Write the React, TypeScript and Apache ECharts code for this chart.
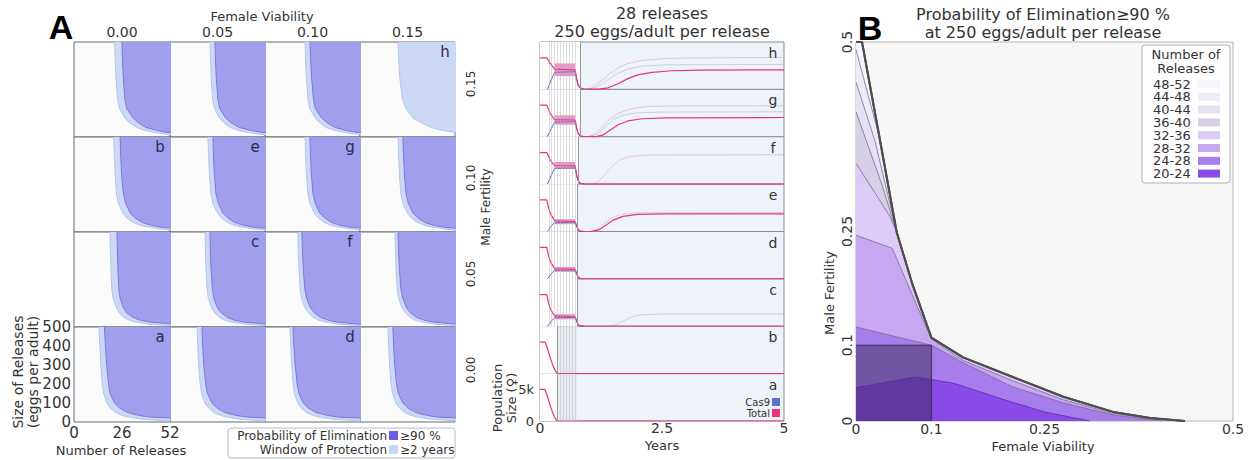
import React, { useEffect, useRef } from "react";
import * as echarts from "echarts";

const FONT = "DejaVu Sans";

// ---------------- Panel A data ----------------
const FEMALE_VIABILITY_COLS = ["0.00", "0.05", "0.10", "0.15"];
const MALE_FERTILITY_ROWS = ["0.15", "0.10", "0.05", "0.00"];
const RELEASE_SIZE_LEVELS = [500, 400, 300, 200, 150, 100, 75, 50, 35, 25, 15, 5];
const CELL_LETTERS = [
  ["", "", "", "h"],
  ["b", "e", "g", ""],
  ["", "c", "f", ""],
  ["a", "", "d", ""],
];

// Number of releases at the >=90 % elimination edge, for each release size level
const ELIM_MF015 = [
  [26, 26.3, 26.8, 27.5, 28.5, 32, 35, 39, 45, 50, 65, 90],
  [24.6, 24.9, 25.4, 26.2, 27.2, 30.5, 33.5, 38, 44, 50, 65, 90],
  [24.6, 25, 25.6, 26.5, 27.5, 31, 34, 38.5, 44, 50, 65, 90],
  null,
];
const ELIM_MF010 = [
  [25, 25.3, 25.8, 26.8, 28, 30.5, 33, 37, 42, 47, 60, 85],
  [23.5, 23.8, 24.3, 25.2, 26.5, 29, 31.5, 35.5, 40.5, 46, 58, 80],
  [24.6, 24.9, 25.4, 26.3, 27.5, 30, 32.5, 36.5, 41.5, 47, 60, 85],
  [23.5, 23.8, 24.3, 25.2, 26.5, 29, 31.5, 35.5, 40.5, 46, 58, 80],
];
const ELIM_MF005 = [
  [23.3, 23.5, 23.8, 24.3, 25, 26.8, 28.5, 32, 36, 42, 55, 80],
  [21.9, 22.1, 22.5, 23.2, 24, 26, 28, 31.5, 35.5, 41, 54, 78],
  [20.2, 20.5, 21, 21.8, 22.8, 25, 27, 30.5, 35, 40, 52, 75],
  [20.8, 21.1, 21.6, 22.4, 23.4, 25.6, 27.6, 31, 35.5, 41, 53, 76],
];
const ELIM_MF000 = [
  [16.5, 17, 17.7, 18.7, 19.5, 22, 24.5, 29, 35, 42, 70, 90],
  [17.5, 17.9, 18.5, 19.5, 20.5, 23, 25.5, 30, 36, 43, 70, 90],
  [15.3, 15.8, 16.5, 17.6, 18.6, 21, 23.5, 28, 34, 41, 68, 90],
  [18, 18.4, 19, 20, 21, 23.5, 26, 30.5, 36.5, 43, 70, 90],
];
// Number of releases at the >=2 years window-of-protection edge
const WIN_MF015 = [
  [22, 22.3, 22.8, 23.6, 24.6, 27.5, 30, 34, 38, 43, 50, 62],
  [21.9, 22.2, 22.6, 23.3, 24.3, 27, 29.5, 33, 37, 42, 49, 60],
  [21.9, 22.2, 22.7, 23.5, 24.5, 27.5, 30, 33.5, 38, 43, 50, 62],
  [20.8, 21.2, 21.9, 23.3, 25, 29, 33.5, 39, 45, 52, 60, 70],
];
const WIN_MF010 = [
  [21.5, 21.8, 22.3, 23, 24, 26.5, 28.5, 32, 36, 41, 48, 60],
  [20.8, 21.1, 21.6, 22.4, 23.5, 26, 28, 31.5, 35, 40, 47, 58],
  [21.9, 22.2, 22.7, 23.5, 24.6, 27, 29, 32.5, 36, 41, 48, 60],
  [20.8, 21.1, 21.6, 22.4, 23.5, 26, 28, 31.5, 35, 40, 47, 58],
];
const WIN_MF005 = [
  [19.5, 19.7, 20, 20.5, 21.2, 23, 24.5, 27, 30, 34, 41, 55],
  [19.2, 19.4, 19.7, 20.3, 21, 22.8, 24.5, 27, 30, 34, 41, 55],
  [18, 18.2, 18.6, 19.2, 20, 22, 23.7, 26.5, 29.5, 33.5, 40, 54],
  [19.2, 19.4, 19.8, 20.4, 21.2, 23, 24.8, 27.5, 30.5, 34.5, 41, 55],
];
const WIN_MF000 = [
  [13.5, 14, 14.5, 15.3, 16, 17.8, 19.5, 22.5, 26, 30, 37, 52],
  [14.8, 15.2, 15.7, 16.5, 17.3, 19, 21, 24, 27.5, 31.5, 38, 53],
  [13.7, 14.1, 14.6, 15.4, 16.1, 17.9, 19.6, 22.6, 26, 30, 37, 52],
  [15.3, 15.7, 16.2, 17, 17.8, 19.6, 21.5, 24.5, 28, 32, 39, 54],
];
const ELIM_GRID = [ELIM_MF015, ELIM_MF010, ELIM_MF005, ELIM_MF000];
const WIN_GRID = [WIN_MF015, WIN_MF010, WIN_MF005, WIN_MF000];

// ---------------- Middle panel data (years, females) ----------------
const RELEASE_TIMES = [0.18, 0.24, 0.3, 0.36, 0.42, 0.48, 0.54, 0.6, 0.66, 0.72];
const TOTAL_H = [[0, 5000], [0.14, 5000], [0.17, 4600], [0.21, 4100], [0.26, 3600], [0.3, 3200], [0.72, 3100], [0.75, 1800], [0.78, 800], [0.82, 250], [0.9, 60], [1.2, 40], [1.4, 250], [1.6, 900], [1.8, 1700], [2.0, 2300], [2.3, 2700], [2.7, 2950], [3.3, 3050], [5, 3100]];
const CAS9_H = [[0.15, 0], [0.19, 700], [0.23, 1500], [0.27, 2200], [0.3, 2700], [0.72, 2800], [0.75, 1500], [0.78, 600], [0.82, 150], [0.9, 0]];
const FAINT_H = [
  [[0.9, 0], [1.05, 200], [1.2, 1000], [1.4, 2300], [1.6, 3400], [1.8, 4100], [2.1, 4600], [2.6, 4900], [3.5, 5000], [5, 5050]],
  [[0.95, 0], [1.15, 300], [1.35, 1300], [1.55, 2400], [1.8, 3200], [2.1, 3700], [2.6, 3900], [5, 3950]],
];
const TOTAL_G = [[0, 5000], [0.14, 5000], [0.17, 4400], [0.21, 3700], [0.26, 3100], [0.3, 2700], [0.72, 2650], [0.75, 1500], [0.78, 600], [0.82, 150], [0.9, 30], [1.15, 30], [1.3, 300], [1.45, 1100], [1.6, 1900], [1.8, 2500], [2.1, 2850], [2.6, 3000], [5, 3050]];
const CAS9_G = [[0.15, 0], [0.19, 600], [0.23, 1300], [0.27, 1900], [0.3, 2300], [0.72, 2400], [0.75, 1300], [0.78, 500], [0.82, 120], [0.9, 0]];
const FAINT_G = [
  [[0.95, 0], [1.1, 300], [1.25, 1300], [1.4, 2600], [1.6, 3700], [1.85, 4400], [2.2, 4800], [3, 4900], [5, 4900]],
  [[1.0, 0], [1.2, 500], [1.35, 1600], [1.5, 2700], [1.7, 3400], [2.0, 3800], [2.5, 3900], [5, 3950]],
];
const TOTAL_F = [[0, 5000], [0.14, 5000], [0.17, 4500], [0.21, 3800], [0.26, 3300], [0.3, 2950], [0.72, 2900], [0.75, 1600], [0.78, 600], [0.82, 150], [0.9, 0], [5, 0]];
const CAS9_F = [[0.15, 0], [0.19, 650], [0.23, 1400], [0.27, 2000], [0.3, 2500], [0.72, 2550], [0.75, 1350], [0.78, 500], [0.82, 120], [0.9, 0]];
const FAINT_F = [
  [[1.05, 0], [1.2, 400], [1.35, 1700], [1.5, 3000], [1.65, 3900], [1.85, 4400], [2.2, 4600], [5, 4650]],
];
const TOTAL_E = [[0, 5000], [0.14, 5000], [0.17, 3900], [0.21, 2900], [0.26, 2200], [0.3, 1700], [0.72, 1550], [0.75, 900], [0.78, 350], [0.82, 80], [0.9, 0], [1.05, 0], [1.2, 250], [1.35, 1000], [1.5, 1800], [1.7, 2400], [2.0, 2700], [2.5, 2800], [5, 2800]];
const CAS9_E = [[0.15, 0], [0.19, 400], [0.23, 850], [0.27, 1200], [0.3, 1400], [0.72, 1450], [0.75, 800], [0.78, 300], [0.82, 60], [0.9, 0]];
const FAINT_E = [
  [[1.0, 0], [1.15, 300], [1.3, 1200], [1.45, 2100], [1.65, 2700], [2.0, 2950], [5, 3000]],
];
const TOTAL_D = [[0, 5000], [0.14, 5000], [0.17, 3800], [0.21, 2800], [0.26, 2100], [0.3, 1600], [0.72, 1500], [0.75, 850], [0.78, 300], [0.82, 60], [0.9, 0], [5, 0]];
const CAS9_D = [[0.15, 0], [0.19, 350], [0.23, 800], [0.27, 1150], [0.3, 1350], [0.72, 1400], [0.75, 750], [0.78, 250], [0.82, 50], [0.9, 0]];
const TOTAL_C = [[0, 5000], [0.14, 5000], [0.17, 3800], [0.21, 2800], [0.26, 2100], [0.3, 1650], [0.72, 1500], [0.75, 850], [0.78, 300], [0.82, 60], [0.9, 0], [5, 0]];
const CAS9_C = [[0.15, 0], [0.19, 350], [0.23, 800], [0.27, 1150], [0.3, 1350], [0.72, 1400], [0.75, 750], [0.78, 250], [0.82, 50], [0.9, 0]];
const FAINT_C = [
  [[1.4, 0], [1.55, 200], [1.7, 800], [1.85, 1400], [2.0, 1750], [2.3, 1900], [3, 1950], [5, 1950]],
];
const TOTAL_B = [[0, 5000], [0.1, 5000], [0.14, 4300], [0.18, 3300], [0.22, 2300], [0.26, 1400], [0.3, 650], [0.34, 150], [0.37, 0], [5, 0]];
const TOTAL_A = [[0, 5000], [0.1, 5000], [0.14, 4200], [0.18, 3200], [0.22, 2200], [0.26, 1300], [0.3, 600], [0.34, 100], [0.37, 0], [5, 0]];
// oscillation envelope during releases: [t start, t end, low, high]
const BLOCK_H = [0.3, 0.72, 2100, 4100];
const BLOCK_G = [0.3, 0.72, 1900, 3400];
const BLOCK_F = [0.3, 0.72, 2400, 3500];
const BLOCK_E = [0.3, 0.72, 1150, 1950];
const BLOCK_D = [0.3, 0.72, 1100, 1900];
const BLOCK_C = [0.3, 0.72, 1100, 1900];
const POP_TICKS = [0, 5000];
const YEAR_TICKS = [0, 2.5, 5];

// ---------------- Panel B data ----------------
const B_TICKS = [0, 0.1, 0.25, 0.5];
const B_BINS = ["48-52", "44-48", "40-44", "36-40", "32-36", "28-32", "24-28", "20-24"];
const OUTER_TAIL = [[0.054, 0.249], [0.075, 0.18], [0.1, 0.11], [0.142, 0.084], [0.208, 0.058], [0.275, 0.032], [0.341, 0.012], [0.39, 0.004], [0.436, 0]];
const B_48_52 = [[0, 0.5], [0.008, 0.5], [0.031, 0.375], ...OUTER_TAIL];
const B_44_48 = [[0, 0.49], [0.016, 0.43], [0.031, 0.375], ...OUTER_TAIL];
const B_40_44 = [[0, 0.447], [0.025, 0.37], ...OUTER_TAIL];
const B_36_40 = [[0, 0.408], [0.035, 0.31], ...OUTER_TAIL];
const B_32_36 = [[0, 0.34], [0.045, 0.27], ...OUTER_TAIL];
const B_28_32 = [[0, 0.245], [0.048, 0.228], [0.1, 0.108], [0.142, 0.08], [0.208, 0.053], [0.275, 0.028], [0.341, 0.01], [0.39, 0.003], [0.43, 0]];
const B_24_28 = [[0, 0.124], [0.1, 0.1], [0.142, 0.077], [0.208, 0.045], [0.275, 0.024], [0.341, 0.008], [0.407, 0]];
const B_20_24 = [[0, 0.044], [0.078, 0.058], [0.129, 0.05], [0.2, 0.027], [0.25, 0.012], [0.31, 0]];
const B_BOUNDS = [B_48_52, B_44_48, B_40_44, B_36_40, B_32_36, B_28_32, B_24_28, B_20_24];
const B_STUDY_BOX = [[0, 0.1], [0.1, 0.1], [0.1, 0]];

// ---------------- styles / layout ----------------
const B_COLORS = ["#f7f5fc", "#efebf8", "#e6e0f3", "#d6cfe6", "#dccbf6", "#c5a8f1", "#a77ceb", "#8b4ae8"];
const ELIM_FILL = "#a29eee";
const ELIM_EDGE = "#7d77d8";
const WIN_FILL = "#cbd8f6";
const WIN_EDGE = "#b3c4ee";
const PINK = "#e8337f";
const BLUE = "#5f6fcc";

const A_LEFT = [74, 170, 265, 360];
const A_W = [96, 95, 95, 95];
const A_TOP = [42, 137, 232, 327];
const A_H = 95;
const M_LEFT = 540;
const M_W = 244;
const M_TOP = 42;
const M_H = 47.375;

function buildOption() {
  const grid: any[] = [];
  const xAxis: any[] = [];
  const yAxis: any[] = [];
  const series: any[] = [];
  const graphic: any[] = [];

  const txt = (text: string, x: number, y: number, o: any = {}) => ({
    type: "text",
    x,
    y,
    rotation: o.rot || 0,
    silent: true,
    z: 100,
    style: {
      text,
      fontSize: o.size || 13,
      fontFamily: o.family || FONT,
      fontWeight: o.weight || "normal",
      fill: o.color || "#333",
      align: o.align || "center",
      verticalAlign: "middle",
      lineHeight: o.lh,
    },
  });
  const rect = (x: number, y: number, w: number, h: number, fill: string, stroke?: string) => ({
    type: "rect",
    silent: true,
    z: 99,
    shape: { x, y, width: w, height: h, r: stroke ? 3 : 0 },
    style: { fill, stroke: stroke || "none", lineWidth: 1 },
  });

  // ---------- Panel A ----------
  for (let r = 0; r < 4; r++) {
    for (let c = 0; c < 4; c++) {
      const gi = grid.length;
      const isBL = r === 3 && c === 0;
      grid.push({
        left: A_LEFT[c], top: A_TOP[r], width: A_W[c], height: A_H,
        show: true, borderColor: "#6a6a6a", borderWidth: 1, backgroundColor: "#fbfbfc",
        outerBoundsMode: "none",
      });
      xAxis.push({
        gridIndex: gi, type: "value", min: 0, max: 52, interval: 26,
        axisLine: { show: false }, axisTick: { show: false }, splitLine: { show: false },
        axisLabel: { show: isBL, fontSize: 15, color: "#333", margin: 3, fontFamily: FONT, showMinLabel: true, showMaxLabel: true },
      });
      yAxis.push({
        gridIndex: gi, type: "value", min: 0, max: 500, interval: 100,
        axisLine: { show: false }, axisTick: { show: false }, splitLine: { show: false },
        axisLabel: { show: isBL, fontSize: 15, color: "#333", margin: 3, fontFamily: FONT, showMinLabel: true, showMaxLabel: true },
      });
      const win = WIN_GRID[r][c];
      if (win) {
        series.push({
          type: "line", xAxisIndex: gi, yAxisIndex: gi, silent: true, symbol: "none", clip: true,
          data: RELEASE_SIZE_LEVELS.map((s, k) => [win[k], s]),
          lineStyle: { width: 1, color: WIN_EDGE },
          areaStyle: { origin: "end", color: WIN_FILL, opacity: 1 },
        });
      }
      const elim = ELIM_GRID[r][c];
      if (elim) {
        series.push({
          type: "line", xAxisIndex: gi, yAxisIndex: gi, silent: true, symbol: "none", clip: true,
          data: RELEASE_SIZE_LEVELS.map((s, k) => [elim[k], s]),
          lineStyle: { width: 1, color: ELIM_EDGE },
          areaStyle: { origin: "end", color: ELIM_FILL, opacity: 1 },
        });
      }
      if (CELL_LETTERS[r][c]) {
        graphic.push(txt(CELL_LETTERS[r][c], A_LEFT[c] + A_W[c] - 10, A_TOP[r] + 10, { size: 15, color: "#2a2a50" }));
      }
    }
  }
  graphic.push(txt("A", 61, 27, { size: 34, weight: "bold", family: "Liberation Sans", color: "#000" }));
  graphic.push(txt("Female Viability", 262, 16, { size: 13 }));
  FEMALE_VIABILITY_COLS.forEach((l, c) => graphic.push(txt(l, A_LEFT[c] + A_W[c] / 2, 32, { size: 14 })));
  const rowLabelY = [84, 178, 274, 370];
  MALE_FERTILITY_ROWS.forEach((l, r) => graphic.push(txt(l, 471, rowLabelY[r], { size: 12, rot: Math.PI / 2 })));
  graphic.push(txt("Male Fertility", 486, 207, { size: 12, rot: Math.PI / 2 }));
  graphic.push(txt("Size of Releases\n(eggs per adult)", 25, 372, { size: 14, lh: 15, rot: Math.PI / 2 }));
  graphic.push(txt("Number of Releases", 121, 450, { size: 13 }));
  // A legend
  graphic.push(rect(228, 428, 227, 30, "#ffffff", "#b8b8c8"));
  graphic.push(txt("Probability of Elimination", 387, 436, { size: 12, align: "right" }));
  graphic.push(rect(389, 431, 9, 9, "#6a5ce6"));
  graphic.push(txt("≥90 %", 400, 436, { size: 12, align: "left" }));
  graphic.push(txt("Window of Protection", 387, 450, { size: 12, align: "right" }));
  graphic.push(rect(389, 445, 9, 9, "#c6d7f5"));
  graphic.push(txt("≥2 years", 400, 450, { size: 12, align: "left" }));

  // ---------- Middle panel ----------
  const panels = [
    { letter: "h", total: TOTAL_H, cas9: CAS9_H, faint: FAINT_H, block: BLOCK_H, mark: 0.82 },
    { letter: "g", total: TOTAL_G, cas9: CAS9_G, faint: FAINT_G, block: BLOCK_G, mark: 0.82 },
    { letter: "f", total: TOTAL_F, cas9: CAS9_F, faint: FAINT_F, block: BLOCK_F, mark: 0.78 },
    { letter: "e", total: TOTAL_E, cas9: CAS9_E, faint: FAINT_E, block: BLOCK_E, mark: 0.77 },
    { letter: "d", total: TOTAL_D, cas9: CAS9_D, faint: [], block: BLOCK_D, mark: 0.77 },
    { letter: "c", total: TOTAL_C, cas9: CAS9_C, faint: FAINT_C, block: BLOCK_C, mark: 0.77 },
    { letter: "b", total: TOTAL_B, cas9: null, faint: [], block: null, mark: 0.35 },
    { letter: "a", total: TOTAL_A, cas9: null, faint: [], block: null, mark: 0.35 },
  ];
  panels.forEach((p, i) => {
    const gi = grid.length;
    const isBottom = i === panels.length - 1;
    const top = M_TOP + i * M_H;
    grid.push({
      left: M_LEFT, top, width: M_W, height: M_H,
      show: true, borderColor: "#8c8c8c", borderWidth: 1, backgroundColor: "#eef3fa",
      outerBoundsMode: "none",
    });
    xAxis.push({
      gridIndex: gi, type: "value", min: 0, max: 5,
      axisLine: { show: false }, axisTick: { show: false }, splitLine: { show: false },
      axisLabel: { show: isBottom, customValues: YEAR_TICKS, fontSize: 14, color: "#333", margin: 0, fontFamily: FONT },
    });
    yAxis.push({
      gridIndex: gi, type: "value", min: 0, max: 7500,
      axisLine: { show: false }, axisTick: { show: false }, splitLine: { show: false },
      axisLabel: {
        show: isBottom, customValues: POP_TICKS, fontSize: 13, color: "#333", margin: 6, fontFamily: FONT,
        formatter: (v: number) => (v >= 1000 ? v / 1000 + "k" : String(v)),
      },
    });
    p.faint.forEach((f: number[][], k: number) => {
      series.push({
        type: "line", xAxisIndex: gi, yAxisIndex: gi, silent: true, symbol: "none", data: f,
        lineStyle: { width: 1, color: k === 0 ? "rgba(220,140,185,0.45)" : "rgba(150,155,200,0.4)" },
      });
    });
    const areas: any[] = [[{ xAxis: 0, itemStyle: { color: "#fdfdfd" } }, { xAxis: p.mark }]];
    if (!p.block) areas.push([{ xAxis: p.mark, itemStyle: { color: "#e7eaef" } }, { xAxis: 0.76 }]);
    if (p.block) {
      areas.push([
        { coord: [p.block[0], p.block[2]], itemStyle: { color: "rgba(222,70,150,0.55)" } },
        { coord: [p.block[1], p.block[3]] },
      ]);
    }
    if (p.cas9) {
      series.push({
        type: "line", xAxisIndex: gi, yAxisIndex: gi, silent: true, symbol: "none", data: p.cas9,
        lineStyle: { width: 1, color: BLUE },
      });
    }
    const stripes = RELEASE_TIMES.filter((t) => p.block || t >= p.mark);
    series.push({
      type: "line", xAxisIndex: gi, yAxisIndex: gi, silent: true, symbol: "none", data: p.total,
      lineStyle: { width: 1.2, color: PINK },
      markArea: { silent: true, data: areas },
      markLine: {
        silent: true, symbol: ["none", "none"], label: { show: false },
        data: [
          ...stripes.map((t) => ({ xAxis: t, lineStyle: { color: "rgba(175,175,185,0.4)", width: 1, type: "solid" } })),
          { xAxis: p.mark, lineStyle: { color: "#9a9a9a", width: 1, type: "solid" } },
        ],
      },
    });
    graphic.push(txt(p.letter, M_LEFT + M_W - 11, top + 11, { size: 14, color: "#333" }));
  });
  graphic.push(txt("28 releases", 662, 13, { size: 16 }));
  graphic.push(txt("250 eggs/adult per release", 662, 31, { size: 16 }));
  graphic.push(txt("Population\nSize (♀)", 504, 398, { size: 13, lh: 14, rot: Math.PI / 2 }));
  graphic.push(txt("Years", 662, 445, { size: 13 }));
  graphic.push(txt("Cas9", 770, 402, { size: 10, align: "right" }));
  graphic.push(rect(772, 398, 8, 8, BLUE));
  graphic.push(txt("Total", 770, 413, { size: 10, align: "right" }));
  graphic.push(rect(772, 409, 8, 8, PINK));

  // ---------- Panel B ----------
  const gB = grid.length;
  grid.push({
    left: 856, top: 42, width: 377, height: 379,
    show: true, borderColor: "#b4b4b4", borderWidth: 1, backgroundColor: "#f6f6f7",
    outerBoundsMode: "none",
  });
  xAxis.push({
    gridIndex: gB, type: "value", min: 0, max: 0.5,
    axisLine: { show: false }, axisTick: { show: false }, splitLine: { show: false },
    axisLabel: { customValues: B_TICKS, fontSize: 14, color: "#333", margin: 1, fontFamily: FONT, formatter: (v: number) => String(v) },
  });
  yAxis.push({
    gridIndex: gB, type: "value", min: 0, max: 0.5,
    axisLine: { show: false }, axisTick: { show: false }, splitLine: { show: false },
    axisLabel: { customValues: B_TICKS, rotate: 90, fontSize: 14, color: "#333", margin: 2, fontFamily: FONT, formatter: (v: number) => String(v) },
  });
  B_BOUNDS.forEach((b, k) => {
    series.push({
      type: "line", name: B_BINS[k], xAxisIndex: gB, yAxisIndex: gB, silent: true, symbol: "none", data: b,
      lineStyle: { width: k === 0 ? 2 : 0.8, color: k === 0 ? "#4d4d4d" : k === 7 ? "#5a2aa8" : "#7a6c96" },
      areaStyle: { origin: "start", color: B_COLORS[k], opacity: 1 },
    });
  });
  series.push({
    type: "line", xAxisIndex: gB, yAxisIndex: gB, silent: true, symbol: "none", data: B_STUDY_BOX,
    lineStyle: { width: 1, color: "#3a3345" },
    areaStyle: { origin: "start", color: "rgba(45,35,70,0.45)", opacity: 1 },
  });
  series.push({
    type: "line", xAxisIndex: gB, yAxisIndex: gB, silent: true, symbol: "none", data: B_48_52.slice(1),
    lineStyle: { width: 2, color: "#4d4d4d" },
  });
  graphic.push(txt("B", 870, 28, { size: 34, weight: "bold", family: "Liberation Sans", color: "#000" }));
  graphic.push(txt("Probability of Elimination≥90 %", 1043, 14, { size: 16 }));
  graphic.push(txt("at 250 eggs/adult per release", 1043, 32, { size: 16 }));
  graphic.push(txt("Male Fertility", 829, 293, { size: 13, rot: Math.PI / 2 }));
  graphic.push(txt("Female Viability", 1043, 446, { size: 13 }));
  // B legend
  graphic.push(rect(1142, 45, 88, 138, "rgba(255,255,255,0.85)", "#b0b0c0"));
  graphic.push(txt("Number of", 1186, 54, { size: 13 }));
  graphic.push(txt("Releases", 1186, 68, { size: 13 }));
  B_BINS.forEach((bin, k) => {
    const y = 84 + k * 12.8;
    graphic.push(txt(bin, 1153, y, { size: 13, align: "left" }));
    graphic.push(rect(1198, y - 4, 22, 8, B_COLORS[k]));
  });

  return {
    animation: false,
    backgroundColor: "#ffffff",
    textStyle: { fontFamily: FONT },
    grid,
    xAxis,
    yAxis,
    series,
    graphic: { elements: graphic },
  };
}

export default function App() {
  const ref = useRef<HTMLDivElement>(null);
  useEffect(() => {
    if (!ref.current) return;
    const chart = echarts.init(ref.current, null, { renderer: "svg" });
    chart.setOption(buildOption() as any);
    return () => chart.dispose();
  }, []);
  return (
    <div
      ref={ref}
      style={{ position: "fixed", left: 0, top: 0, width: 1249, height: 460, background: "#fff" }}
    />
  );
}
